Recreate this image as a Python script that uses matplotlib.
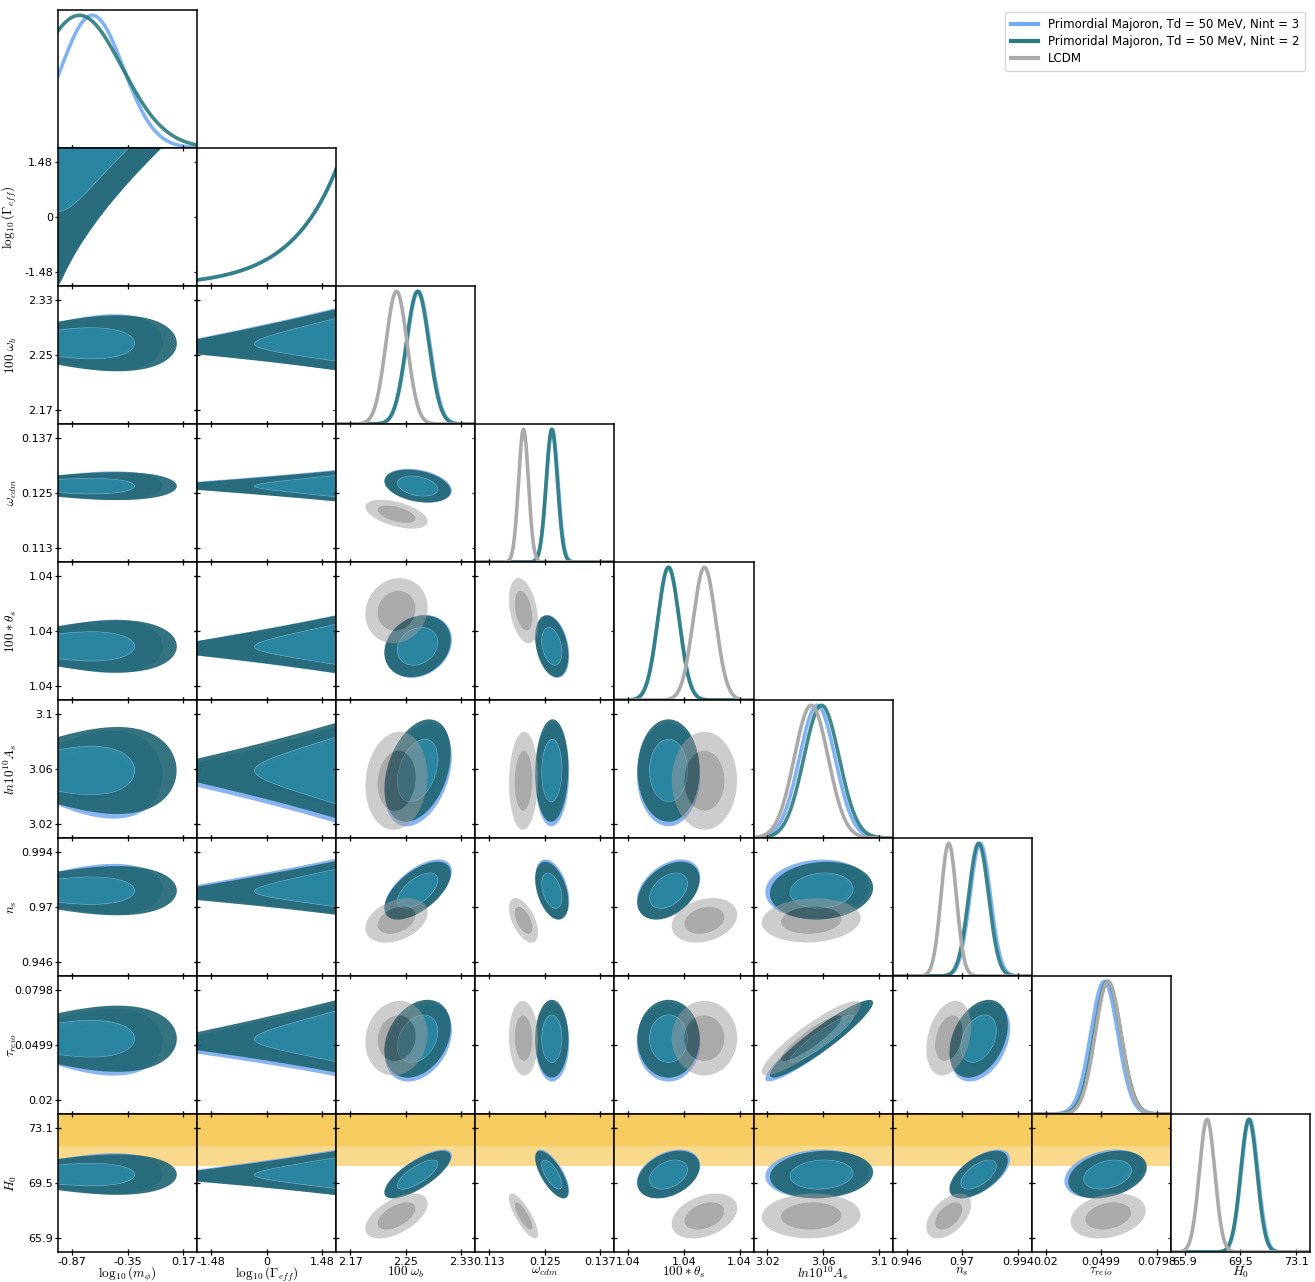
import numpy as np
import matplotlib.pyplot as plt
from matplotlib.lines import Line2D

plt.rcParams['mathtext.fontset'] = 'cm'
plt.rcParams['font.family'] = 'DejaVu Sans'

labels = [r'$\log_{10}(m_\phi)$', r'$\log_{10}(\Gamma_{eff})$', r'$100~\omega_b$',
          r'$\omega_{cdm}$', r'$100*\theta_s$', r'$ln10^{10}A_s$', r'$n_s$',
          r'$\tau_{reio}$', r'$H_0$']
lo = [-1.0, -1.85, 2.15, 0.11, 1.0397, 3.01, 0.94, 0.01253, 65.0]
hi = [0.3, 1.85, 2.35, 0.14, 1.0433, 3.11, 1.0, 0.08727, 74.0]

# gaussian-like parameters: omega_b, omega_cdm, theta_s, A_s, n_s, tau, H0
mean_nint3 = [2.268, 0.1266, 1.04110, 3.0558, 0.9778, 0.0515, 70.10]
sig_nint3 = [0.0165, 0.00125, 0.000280, 0.0128, 0.0044, 0.0073, 0.54]
mean_nint2 = [2.267, 0.1265, 1.04110, 3.0589, 0.9771, 0.0533, 70.05]
sig_nint2 = [0.0163, 0.00122, 0.000275, 0.0127, 0.0043, 0.0072, 0.53]
mean_lcdm = [2.2367, 0.1204, 1.04203, 3.0515, 0.9642, 0.0536, 67.35]
sig_lcdm = [0.0153, 0.00107, 0.000290, 0.0122, 0.0033, 0.0069, 0.50]

corr_majoron = [
    [1.0],
    [-0.30, 1.0],
    [0.20, -0.30, 1.0],
    [0.35, 0.05, 0.00, 1.0],
    [0.60, -0.40, 0.40, 0.10, 1.0],
    [0.30, 0.00, 0.00, 0.93, 0.35, 1.0],
    [0.75, -0.70, 0.35, 0.10, 0.60, 0.30, 1.0],
]
corr_lcdm = [
    [1.0],
    [-0.50, 1.0],
    [0.10, -0.35, 1.0],
    [0.10, 0.05, 0.00, 1.0],
    [0.35, -0.55, 0.25, 0.10, 1.0],
    [0.10, -0.05, 0.00, 0.90, 0.30, 1.0],
    [0.55, -0.80, 0.35, 0.05, 0.50, 0.25, 1.0],
]

# log10(m_phi): peak and width; log10(Gamma_eff): exponential rise to the prior edge
mphi_peak = [-0.68, -0.80]
mphi_width = [0.29, 0.40]
gamma_rate = [0.80, 0.80]
gamma_edge = [0.88, 0.88]
# drift of the other parameters with log10(Gamma_eff), in sigma per unit
gamma_shift = [0.17, 0.0, 0.10, 0.0, 0.15, 0.10, 0.10]
# spread of the other parameters at the low / high edge (in sigma)
gamma_spread = [0.55, 0.95]
mphi_spread = [0.65, 1.35]
# width in m_phi of the m_phi - Gamma joint at the low / high Gamma edge
mg_width = [0.06, 0.40]

# local H0 measurement
h0_local, h0_err = 73.2, 1.3

smooth = 1.18

sets = [
    dict(label='Primordial Majoron, Td = 50 MeV, Nint = 3', mean=mean_nint3, sig=sig_nint3,
         corr=corr_majoron, k=0, line='#74aaf2', fills=['#7dacee', '#5f98e6'], alpha=0.9,
         edge=None),
    dict(label='Primoridal Majoron, Td = 50 MeV, Nint = 2', mean=mean_nint2, sig=sig_nint2,
         corr=corr_majoron, k=1, line='#2b7b7e', fills=['#1f6472', '#23829a'], alpha=0.9,
         edge='#8cc3d0'),
    dict(label='LCDM', mean=mean_lcdm, sig=sig_lcdm, corr=corr_lcdm, k=None,
         line='#aaaaaa', fills=['#9c9c9c', '#575757'], alpha=0.5, edge=None),
]


def ticks_of(p):
    w = hi[p] - lo[p]
    return [lo[p] + 0.1 * w, lo[p] + 0.5 * w, lo[p] + 0.9 * w]


def curve1d(s, p, x):
    k = s['k']
    if p == 0:
        return np.exp(-0.5 * ((x - mphi_peak[k]) / mphi_width[k]) ** 2)
    if p == 1:
        return gamma_edge[k] * np.exp(gamma_rate[k] * (x - hi[1]))
    m, sg = s['mean'][p - 2], s['sig'][p - 2]
    return np.exp(-0.5 * ((x - m) / sg) ** 2)


def density2d(s, i, j, X, Y):
    k = s['k']
    if j == 0 and i == 1:
        f = (Y - lo[1]) / (hi[1] - lo[1])
        w = mg_width[0] + (mg_width[1] - mg_width[0]) * f
        return np.exp(gamma_rate[k] * Y) * np.exp(-0.5 * ((X - lo[0]) / w) ** 2)
    m, sg = s['mean'][i - 2], s['sig'][i - 2] * smooth
    if j == 0:
        f = (X - lo[0]) / (hi[0] - lo[0])
        sy = sg * (mphi_spread[0] + (mphi_spread[1] - mphi_spread[0]) * f)
        px = np.exp(-0.5 * ((X - mphi_peak[k]) / mphi_width[k]) ** 2)
        return px / sy * np.exp(-0.5 * ((Y - m) / sy) ** 2)
    if j == 1:
        f = (X - lo[1]) / (hi[1] - lo[1])
        sy = sg * (gamma_spread[0] + (gamma_spread[1] - gamma_spread[0]) * f)
        my = m + gamma_shift[i - 2] * s['sig'][i - 2] * X
        return np.exp(gamma_rate[k] * X) / sy * np.exp(-0.5 * ((Y - my) / sy) ** 2)
    mx, sx = s['mean'][j - 2], s['sig'][j - 2] * smooth
    r = s['corr'][i - 2][j - 2]
    zx, zy = (X - mx) / sx, (Y - m) / sg
    return np.exp(-0.5 * (zx ** 2 - 2 * r * zx * zy + zy ** 2) / (1 - r ** 2))


def mass_levels(Z):
    z = np.sort(Z.ravel())[::-1]
    c = np.cumsum(z)
    c /= c[-1]
    return z[np.searchsorted(c, 0.954)], z[np.searchsorted(c, 0.683)]


n = len(labels)
fig = plt.figure(figsize=(13.15, 12.82), dpi=100)
W, H = 1315.0, 1282.0
x0, y0, cw, ch = 58.0, 10.0, 139.1, 138.0

for i in range(n):
    for j in range(i + 1):
        ax = fig.add_axes([(x0 + j * cw) / W, 1 - (y0 + (i + 1) * ch) / H, cw / W, ch / H])
        for sp in ax.spines.values():
            sp.set_linewidth(1.1)
        xs = np.linspace(lo[j], hi[j], 300)
        if i == j:
            for s in sets:
                if s['k'] is None and i < 2:
                    continue
                ax.plot(xs, curve1d(s, i, xs), color=s['line'], lw=2.6,
                        alpha=0.9 if s['k'] is not None else 1.0)
            ax.set_ylim(0, 1.04)
            ax.set_yticks([])
            ax.tick_params(axis='x', direction='inout', length=4, width=0.9, top=False)
        else:
            ys = np.linspace(lo[i], hi[i], 260)
            X, Y = np.meshgrid(xs, ys)
            if i == 8:
                ax.axhspan(h0_local - 2 * h0_err, h0_local + 2 * h0_err, color='#f5c242',
                           alpha=0.6, lw=0, zorder=0)
                ax.axhspan(h0_local - h0_err, h0_local + h0_err, color='#f5c242',
                           alpha=0.6, lw=0, zorder=0)
            for z, s in enumerate(sets):
                if s['k'] is None and j < 2:
                    continue
                Z = density2d(s, i, j, X, Y)
                l95, l68 = mass_levels(Z)
                ax.contourf(X, Y, Z, levels=[l95, l68, Z.max() * 1.01], colors=s['fills'],
                            alpha=s['alpha'], zorder=1 + z, antialiased=True)
                if s['edge']:
                    ax.contour(X, Y, Z, levels=[l68], colors=s['edge'], linewidths=0.5,
                               alpha=0.5, zorder=1 + z)
            ax.set_ylim(lo[i], hi[i])
            ax.set_yticks(ticks_of(i))
            ax.tick_params(axis='both', direction='inout', length=4, width=0.9,
                           top=True, right=True)
        ax.set_xlim(lo[j], hi[j])
        ax.set_xticks(ticks_of(j))
        ax.xaxis.set_major_formatter(plt.FormatStrFormatter('%.3g'))
        ax.yaxis.set_major_formatter(plt.FormatStrFormatter('%.3g'))
        ax.tick_params(labelsize=8, pad=1.5)
        if i == n - 1:
            ax.set_xlabel(labels[j], fontsize=9.5)
            ax.xaxis.set_label_coords(0.5, -0.092)
        else:
            ax.set_xticklabels([])
        if j == 0 and i > 0:
            ax.set_ylabel(labels[i], fontsize=9.5)
            ax.yaxis.set_label_coords(-0.28, 0.5)
        else:
            ax.set_yticklabels([])

handles = [Line2D([], [], color=s['line'], lw=3) for s in sets]
fig.legend(handles, [s['label'] for s in sets], loc='upper right',
           bbox_to_anchor=(1311 / W, 1 - 6 / H), fontsize=8.5, frameon=True,
           handlelength=2.3, borderpad=0.5, labelspacing=0.35)

fig.savefig('out.png', dpi=100)
